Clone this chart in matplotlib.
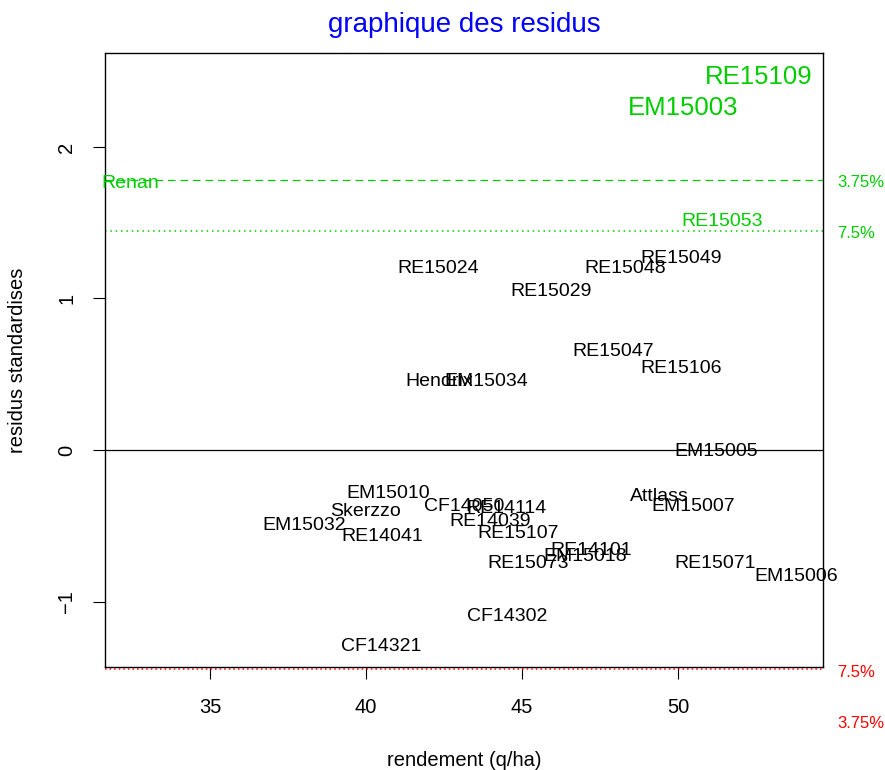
import matplotlib
matplotlib.use("Agg")
import matplotlib.pyplot as plt
import matplotlib.transforms as mtransforms

plt.rcParams["font.family"] = ["Liberation Sans", "DejaVu Sans"]

# ---------------------------------------------------------------------------
# Data
# ---------------------------------------------------------------------------
varieties = [
    "RE15049", "RE15024", "RE15048", "RE15029", "RE15047", "RE15106",
    "Hendrix", "EM15034", "EM15005", "Attlass", "EM15007", "EM15010",
    "Skerzzo", "CF14050", "RE14114", "RE14039", "EM15032", "RE14041",
    "RE15107", "RE14101", "EM15018", "RE15073", "RE15071", "EM15006",
    "CF14302", "CF14321",
]
rendement = [
    50.10, 42.31, 48.30, 45.93, 47.92, 50.10,
    42.34, 43.85, 51.22, 49.39, 50.48, 40.71,
    40.00, 43.14, 44.52, 43.97, 38.01, 40.51,
    44.87, 47.21, 47.02, 45.19, 51.19, 53.78,
    44.52, 40.48,
]
residus = [
    1.267, 1.201, 1.201, 1.043, 0.647, 0.535,
    0.455, 0.455, -0.013, -0.310, -0.370, -0.284,
    -0.403, -0.370, -0.383, -0.469, -0.495, -0.568,
    -0.548, -0.660, -0.706, -0.752, -0.752, -0.832,
    -1.102, -1.300,
]

# varieties above the 7.5 % threshold
high_names = ["RE15109", "EM15003", "Renan", "RE15053"]
high_rendement = [52.60, 50.16, 32.46, 51.41]
high_residus = [2.462, 2.257, 1.762, 1.505]
high_big = [True, True, False, False]

# thresholds (standardised residuals)
seuil_375 = 1.782
seuil_75 = 1.446

xticks = [35, 40, 45, 50]
yticks = [-1, 0, 1, 2]

GREEN = "#00CD00"

# ---------------------------------------------------------------------------
# Plot
# ---------------------------------------------------------------------------
fig = plt.figure(figsize=(8.85, 7.7), dpi=100)
ax = fig.add_axes([105 / 885, 1 - 667 / 770, 718 / 885, 614 / 770])
ax.set_xlim(31.635, 54.65)
ax.set_ylim(-1.432, 2.620)

for name, x, y in zip(varieties, rendement, residus):
    ax.text(x, y, name, ha="center", va="center", fontsize=14, color="black")

for name, x, y, big in zip(high_names, high_rendement, high_residus, high_big):
    ax.text(x, y, name, ha="center", va="center",
            fontsize=18.5 if big else 14, color=GREEN, clip_on=False)

ax.axhline(0, color="black", lw=0.9)
ax.axhline(seuil_375, color=GREEN, lw=0.9, dashes=(6, 4))
ax.axhline(seuil_75, color=GREEN, lw=1.1, dashes=(1, 2.5))
ax.axhline(-seuil_75, color="red", lw=1.1, dashes=(1, 2), clip_on=False,
           zorder=5)

# threshold labels in the right margin (R draws them slightly below the line)
shift = mtransforms.ScaledTranslation(0, -3 / 100, fig.dpi_scale_trans)
trans = mtransforms.blended_transform_factory(ax.transAxes, ax.transData) + shift
for val, lab, col in [(seuil_375, "3.75%", GREEN), (seuil_75, "7.5%", GREEN),
                      (-seuil_75, "7.5%", "red"), (-seuil_375, "3.75%", "red")]:
    ax.text(1.0195, val, lab, transform=trans, color=col, fontsize=12,
            ha="left", va="center", clip_on=False)

ax.set_xticks(xticks)
ax.set_yticks(yticks)
ax.tick_params(axis="both", direction="out", length=8.6, width=0.8,
               labelsize=14.5)
ax.tick_params(axis="x", pad=14)
ax.tick_params(axis="y", pad=12)
for lab in ax.get_yticklabels():
    lab.set_rotation(90)
    lab.set_va("center")

for spine in ax.spines.values():
    spine.set_linewidth(1.0)

fig.text(464 / 885, 1 - 25 / 770, "graphique des residus", color="blue",
         fontsize=20, ha="center", va="center")
fig.text(464 / 885, 1 - 760 / 770, "rendement (q/ha)", fontsize=14.5,
         ha="center", va="center")
fig.text(18 / 885, 1 - 360 / 770, "residus standardises", fontsize=14.5,
         ha="center", va="center", rotation=90)

fig.savefig("out.png", dpi=100)
